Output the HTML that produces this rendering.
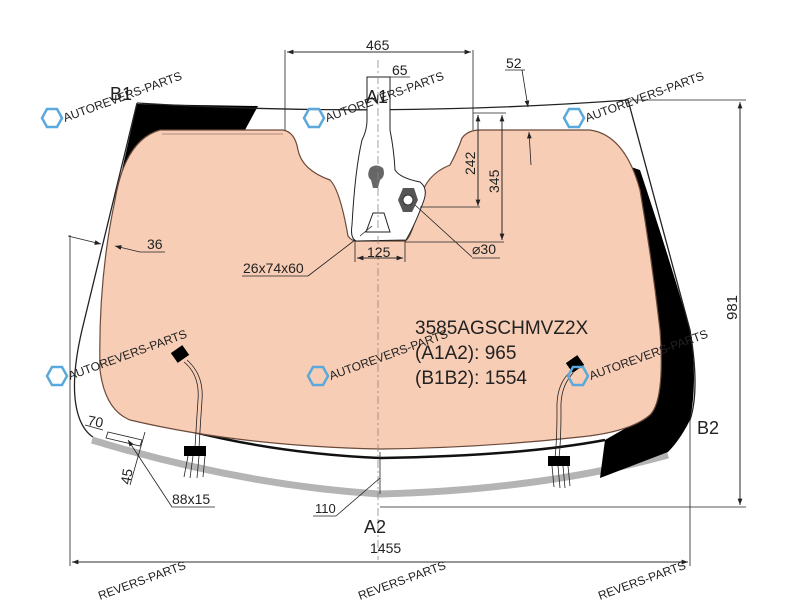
<!DOCTYPE html>
<html><head><meta charset="utf-8"><style>
html,body{margin:0;padding:0;background:#fff}
svg{display:block}
text{font-family:"Liberation Sans",sans-serif;fill:#222}
.wm{fill:#5aa8dc;font-size:12px}
</style></head><body>
<svg width="800" height="600" viewBox="0 0 800 600" xmlns="http://www.w3.org/2000/svg">
<defs>
<marker id="ar" markerWidth="8" markerHeight="6" refX="8" refY="3" orient="auto"><path d="M0,0 L8,3 L0,6 z" fill="#222"/></marker>
</defs>
<!-- gray bottom band -->
<path d="M92,440 Q240,485 380,494 Q540,490 668,455" stroke="#b4b4b4" stroke-width="7" fill="none"/>
<!-- black side bands -->
<path d="M137,104 L258,106 L245,130 L160,130 Q140,140 125,190 L117,192 Z" fill="#000"/>
<path d="M625,165 L640,170 Q670,260 690,330 Q698,380 690,420 Q680,440 668,452 L600,478 L605,440 L640,420 Q660,400 660,330 Q645,250 640,190 Z" fill="#000"/>
<!-- outer glass outline -->
<path d="M137,103 Q380,118 628,100 L690,330 Q700,390 690,420" fill="none" stroke="#222" stroke-width="1.3"/>
<path d="M137,103 L82,330 Q68,390 80,420 Q85,432 93,437" fill="none" stroke="#222" stroke-width="1.3"/>
<path d="M120,410 Q240,452 380,458 Q520,456 605,440" fill="none" stroke="#111" stroke-width="2.5"/>
<!-- peach area -->
<path d="M160,130 L283,130 Q295,132 298,150 Q302,170 330,180 Q340,190 348,236 Q352,242 360,241 L405,241 Q412,238 420,200 Q425,175 450,165 Q458,150 462,138 Q468,130 480,130 L590,130 Q625,135 640,190 Q652,260 660,330 Q665,400 650,415 Q630,432 580,437 Q480,448 380,449 Q240,446 130,420 Q105,410 100,370 Q98,280 115,200 Q125,140 160,130 Z" fill="#f7cdb6" stroke="#6b4a3a" stroke-width="1.2"/>
<path d="M162,134 L283,134" stroke="#6b4a3a" stroke-width="0.6"/>
<!-- mirror patch -->
<path d="M367,77 L390,77 L390,130 Q394,150 395,170 Q400,178 420,182 Q428,188 424,200 Q415,225 406,240 L356,241 Q350,238 352,225 Q355,170 362,140 Q367,130 367,120 Z" fill="#fff" stroke="#222" stroke-width="1"/>
<path d="M370,168 Q376,163 383,168 Q386,176 380,180 L378,188 L373,188 L371,180 Q366,176 370,168 Z" fill="#666"/>
<path d="M403,188 L414,188 L418,200 L412,212 L403,212 L398,200 Z" fill="#555"/>
<circle cx="408" cy="200" r="5" fill="#fff" stroke="#333"/>
<path d="M373,213 L384,213 L390,232 L366,232 Z" fill="#fff" stroke="#222"/>
<!-- centerline -->
<line x1="378" y1="60" x2="378" y2="560" stroke="#888" stroke-dasharray="8,3,2,3" stroke-width="0.8"/>
<!-- dims -->
<g stroke="#222" stroke-width="0.8" fill="none">
<line x1="285" y1="130" x2="285" y2="50"/><line x1="473" y1="130" x2="473" y2="50"/>
<line x1="287" y1="52" x2="471" y2="52" marker-end="url(#ar)"/><line x1="471" y1="52" x2="287" y2="52" marker-end="url(#ar)"/>
<line x1="390" y1="77" x2="410" y2="77"/>
<line x1="478" y1="115" x2="478" y2="206" marker-end="url(#ar)"/><line x1="478" y1="206" x2="478" y2="115" marker-end="url(#ar)"/>
<line x1="420" y1="207" x2="480" y2="207"/>
<line x1="502" y1="115" x2="502" y2="240" marker-end="url(#ar)"/><line x1="502" y1="240" x2="502" y2="115" marker-end="url(#ar)"/>
<line x1="405" y1="242" x2="504" y2="242"/>
<line x1="473" y1="113" x2="506" y2="113"/>
<line x1="415" y1="205" x2="472" y2="257"/><line x1="472" y1="258" x2="500" y2="258"/>
<line x1="355" y1="241" x2="355" y2="262"/><line x1="405" y1="241" x2="405" y2="262"/>
<line x1="357" y1="258" x2="403" y2="258" marker-end="url(#ar)"/><line x1="403" y1="258" x2="357" y2="258" marker-end="url(#ar)"/>
<line x1="242" y1="276" x2="308" y2="276"/><line x1="308" y1="276" x2="355" y2="240"/>
<line x1="360" y1="236" x2="372" y2="226"/>
<line x1="505" y1="70" x2="525" y2="70"/><line x1="522" y1="70" x2="528" y2="107" marker-end="url(#ar)"/>
<line x1="531" y1="165" x2="529" y2="132" marker-end="url(#ar)"/>
<line x1="630" y1="100" x2="746" y2="100"/><line x1="380" y1="507" x2="746" y2="507"/>
<line x1="740" y1="102" x2="740" y2="505" marker-end="url(#ar)"/><line x1="740" y1="505" x2="740" y2="102" marker-end="url(#ar)"/>
<line x1="70" y1="235" x2="70" y2="566"/><line x1="690" y1="420" x2="690" y2="566"/>
<line x1="72" y1="562" x2="688" y2="562" marker-end="url(#ar)"/><line x1="688" y1="562" x2="72" y2="562" marker-end="url(#ar)"/>
<line x1="68" y1="236" x2="101" y2="244" marker-end="url(#ar)"/>
<line x1="165" y1="252" x2="140" y2="252"/><line x1="140" y1="252" x2="115" y2="246" marker-end="url(#ar)"/>
<line x1="380" y1="452" x2="380" y2="494"/><line x1="313" y1="516" x2="336" y2="516"/><line x1="336" y1="516" x2="380" y2="478"/>
<line x1="85" y1="425" x2="103" y2="430"/>
<path d="M108,432 L142,440 L140,446 L106,438 Z"/>
<line x1="145" y1="432" x2="130" y2="485"/>
<line x1="172" y1="507" x2="215" y2="507"/><line x1="172" y1="507" x2="128" y2="440" marker-end="url(#ar)"/>
</g>
<!-- sensors -->
<g>
<rect x="173" y="348" width="14" height="12" fill="#000" transform="rotate(-35 180 354)"/>
<path d="M184,362 Q200,375 198,400 Q196,430 195,448 M187,360 Q204,375 202,400 Q200,430 199,448" stroke="#222" fill="none" stroke-width="0.8"/>
<rect x="184" y="446" width="22" height="10" fill="#000"/>
<path d="M188,456 L184,477 M193,456 L190,478 M199,456 L197,478 M205,456 L203,477" stroke="#222" stroke-width="0.8"/>
<rect x="568" y="358" width="14" height="12" fill="#000" transform="rotate(-35 575 364)"/>
<path d="M570,372 Q556,385 557,410 Q557,440 555,458 M573,373 Q560,387 561,410 Q561,440 559,458" stroke="#222" fill="none" stroke-width="0.8"/>
<rect x="548" y="456" width="22" height="10" fill="#000"/>
<path d="M552,466 L554,487 M558,466 L560,488 M563,466 L565,488 M568,466 L570,486" stroke="#222" stroke-width="0.8"/>
</g>
<!-- labels -->
<g font-size="15">
<text x="110" y="100" font-size="18">B1</text>
<text x="366" y="103" font-size="18">A1</text>
<text x="697" y="434" font-size="18">B2</text>
<text x="364" y="533" font-size="18">A2</text>
<text x="366" y="50" font-size="14">465</text>
<text x="392" y="75" font-size="14">65</text>
<text x="506" y="68" font-size="14">52</text>
<text x="472" y="254" font-size="14">⌀30</text>
<text x="367" y="257" font-size="14">125</text>
<text x="243" y="273" font-size="14">26x74x60</text>
<text x="147" y="249" font-size="14">36</text>
<text x="87" y="425" font-size="14" transform="rotate(10 87 425)">70</text>
<text x="130" y="485" font-size="14" transform="rotate(-80 130 485)">45</text>
<text x="172" y="504" font-size="14">88x15</text>
<text x="315" y="513" font-size="13">110</text>
<text x="370" y="553" font-size="14">1455</text>
<text x="475" y="175" font-size="14" transform="rotate(-90 475 175)">242</text>
<text x="499" y="193" font-size="14" transform="rotate(-90 499 193)">345</text>
<text x="737" y="320" font-size="15" transform="rotate(-90 737 320)">981</text>
<text x="415" y="334" font-size="19">3585AGSCHMVZ2X</text>
<text x="415" y="359" font-size="19">(A1A2): 965</text>
<text x="415" y="384" font-size="19">(B1B2): 1554</text>
</g>
<!-- watermarks -->
<g class="wm">
<g transform="translate(52,118)"><polygon points="-10,0 -5,-9 5,-9 10,0 5,9 -5,9" fill="none" stroke="#5aa8dc" stroke-width="2.5"/><text x="13" y="4" transform="rotate(-20 13 4)">AUTOREVERS-PARTS</text></g>
<g transform="translate(314,118)"><polygon points="-10,0 -5,-9 5,-9 10,0 5,9 -5,9" fill="none" stroke="#5aa8dc" stroke-width="2.5"/><text x="13" y="4" transform="rotate(-20 13 4)">AUTOREVERS-PARTS</text></g>
<g transform="translate(574,118)"><polygon points="-10,0 -5,-9 5,-9 10,0 5,9 -5,9" fill="none" stroke="#5aa8dc" stroke-width="2.5"/><text x="13" y="4" transform="rotate(-20 13 4)">AUTOREVERS-PARTS</text></g>
<g transform="translate(57,376)"><polygon points="-10,0 -5,-9 5,-9 10,0 5,9 -5,9" fill="none" stroke="#5aa8dc" stroke-width="2.5"/><text x="13" y="4" transform="rotate(-20 13 4)">AUTOREVERS-PARTS</text></g>
<g transform="translate(318,376)"><polygon points="-10,0 -5,-9 5,-9 10,0 5,9 -5,9" fill="none" stroke="#5aa8dc" stroke-width="2.5"/><text x="13" y="4" transform="rotate(-20 13 4)">AUTOREVERS-PARTS</text></g>
<g transform="translate(578,376)"><polygon points="-10,0 -5,-9 5,-9 10,0 5,9 -5,9" fill="none" stroke="#5aa8dc" stroke-width="2.5"/><text x="13" y="4" transform="rotate(-20 13 4)">AUTOREVERS-PARTS</text></g>
<text x="100" y="600" transform="rotate(-20 100 600)">REVERS-PARTS</text>
<text x="360" y="600" transform="rotate(-20 360 600)">REVERS-PARTS</text>
<text x="600" y="600" transform="rotate(-20 600 600)">REVERS-PARTS</text>
</g>
</svg>
</body></html>
